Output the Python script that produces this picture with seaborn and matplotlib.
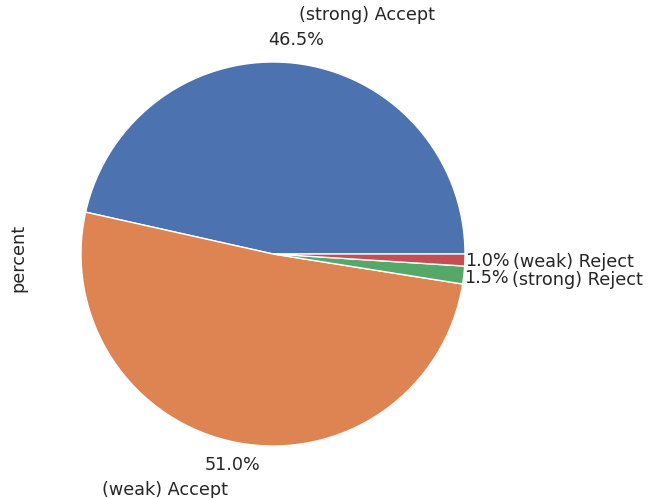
import matplotlib
matplotlib.use("Agg")
import matplotlib.pyplot as plt
import seaborn as sns

sns.set_theme(style="white")

categories = ["(strong) Accept", "(weak) Accept", "(strong) Reject", "(weak) Reject"]
percent = [46.5, 51.0, 1.5, 1.0]

colors = sns.color_palette("deep", 4)

fig = plt.figure(figsize=(6.56, 4.98), dpi=100)
W, H = 656, 498
cx, cy, r = 273, 254, 192
ax = fig.add_axes([(cx - r) / W, (H - cy - r) / H, 2 * r / W, 2 * r / H])

wedges, texts, autotexts = ax.pie(
    percent, labels=categories, colors=colors, autopct="%1.1f%%",
    startangle=0, counterclock=True, pctdistance=1.12, labeldistance=1.25,
    wedgeprops=dict(edgecolor="white", linewidth=1),
    textprops=dict(fontsize=12.7, color="#262626"),
)
ax.set_xlim(-1, 1)
ax.set_ylim(-1, 1)
ax.set_aspect("equal")
for s in ax.spines.values():
    s.set_visible(False)
ax.set_xticks([])
ax.set_yticks([])
ax.set_ylabel("percent", fontsize=12.7, color="#262626")
ax.yaxis.set_label_coords((27 - (cx - r)) / (2 * r), (H - 258 - (H - cy - r)) / (2 * r))

fig.savefig("out.png", dpi=100)
